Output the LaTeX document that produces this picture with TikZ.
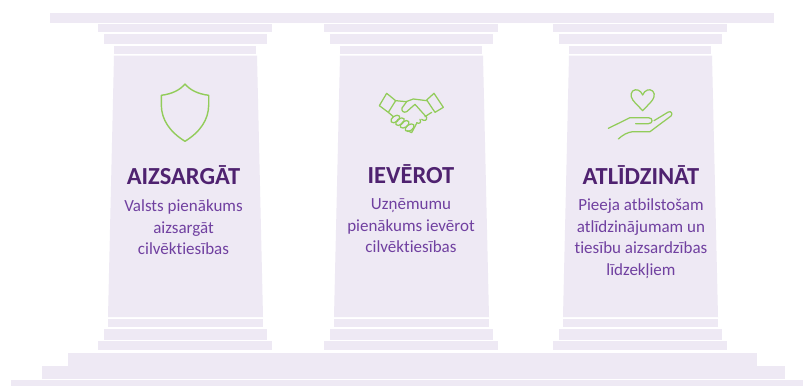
\documentclass[tikz,border=0pt]{standalone}
\usepackage{fontspec}
\setmainfont[Ligatures=NoCommon]{Carlito}
\definecolor{pil}{HTML}{EEE9F4}
\definecolor{ttl}{HTML}{4F2270}
\definecolor{bdy}{HTML}{7040A0}
\definecolor{icn}{HTML}{92CC5A}
\tikzset{
  slab/.style={fill=pil,draw=none},
  ttlnode/.style={font=\fontsize{24.5}{26}\selectfont\bfseries,text=ttl,inner sep=0pt,anchor=center},
  bdynode/.style={font=\fontsize{17}{21.6}\selectfont,text=bdy,inner sep=0pt,align=center,anchor=north},
  icon/.style={draw=icn,line width=1.4pt,line join=round,line cap=round,fill=none},
  thinicon/.style={draw=icn,line width=1.25pt,line join=round,line cap=round,fill=none}
}
\newcommand{\pillar}[1]{%
  \begin{scope}[xshift=#1]
    \fill[slab] (98,24) rectangle (272,32);
    \fill[slab] (104,34) rectangle (267,44);
    \fill[slab] (114,46) rectangle (256,54);
    \fill[slab] (114,55.5) -- (257,55.5) -- (263,317) -- (108,317) -- cycle;
    \fill[slab] (108,319) rectangle (263,327);
    \fill[slab] (104,329) rectangle (267,339.5);
    \fill[slab] (98,341) rectangle (272,350);
  \end{scope}}
\begin{document}
\begin{tikzpicture}[x=1pt,y=-1pt]
\useasboundingbox (0,0) rectangle (803,386);
\fill[white] (0,0) rectangle (803,386);
\fill[slab] (50,13) rectangle (774,23);
\pillar{0pt}\pillar{226pt}\pillar{455pt}
\fill[slab] (68,353) rectangle (757,366);
\fill[slab] (42,366) rectangle (785,379);
\fill[slab] (11,380) rectangle (803,386);
% shield
\draw[icon] (185,84) .. controls (180,90) and (172,94) .. (161.3,95.3)
  -- (161.3,105) .. controls (161.5,120) and (170,132) .. (185,141.3)
  .. controls (200,132) and (208.5,120) .. (208.7,105) -- (208.7,95.3)
  .. controls (198,94) and (190,90) .. (185,84) -- cycle;
% handshake
\begin{scope}[shift={(360,80)},x=0.3333pt,y=-0.3333pt]
  \draw[thinicon] (80,40) -- (107,62) -- (85,97) -- (58,77) -- cycle;
  \draw[thinicon] (222,40) -- (250,82) -- (225,97) -- (200,60) -- cycle;
  \draw[thinicon] (107,62) -- (138,65) -- (160,57) -- (200,62);
  \draw[thinicon] (140,65) -- (126,84) .. controls (124,95) and (132,99) .. (140,95) -- (165,73) -- (200,112) .. controls (202,122) and (192,124) .. (185,118);
  \draw[thinicon] (215,97) -- (195,110);
  \draw[thinicon] (85,97) -- (100,110);
  \draw[thinicon] (180,118) .. controls (186,130) and (176,132) .. (170,128);
  \draw[thinicon] (170,130) -- (155,158) -- (143,152);
  \foreach \fx/\fy in {106/117,120/125,134/133,149/143}
    \draw[thinicon,rotate around={35:(\fx,\fy)}] (\fx,\fy) ellipse [x radius=15,y radius=9];
\end{scope}
% hand and heart
\begin{scope}[shift={(590,80)},x=0.3333pt,y=-0.3333pt]
  \draw[thinicon] (158,45) .. controls (152,30) and (138,25) .. (128,33)
    .. controls (118,43) and (125,58) .. (135,68) -- (158,92) -- (181,68)
    .. controls (191,58) and (198,43) .. (188,33) .. controls (178,25) and (164,30) .. (158,45) -- cycle;
  \draw[thinicon] (55,145) -- (120,113) -- (175,113) .. controls (190,113) and (190,131) .. (175,131) -- (137,131);
  \draw[thinicon] (192,122) -- (235,96) .. controls (244,92) and (249,102) .. (243,108) -- (180,155) -- (128,155) .. controls (112,157) and (98,165) .. (85,177);
\end{scope}
% text
\node[ttlnode] (t1) at (183.5,175) {AIZSARGĀT};
\node[ttlnode] (t2) at (411,174) {IEVĒROT};
\node[ttlnode] (t3) at (641,175) {ATLĪDZINĀT};
\node[bdynode] (b1) at (183.5,199.5) {Valsts pienākums\\aizsargāt\\cilvēktiesības};
\node[bdynode] (b2) at (411,198.5) {Uzņēmumu\\pienākums ievērot\\cilvēktiesības};
\node[bdynode] (b3) at (641,198.5) {Pieeja atbilstošam\\atlīdzinājumam un\\tiesību aizsardzības\\līdzekļiem};
\end{tikzpicture}
\end{document}
